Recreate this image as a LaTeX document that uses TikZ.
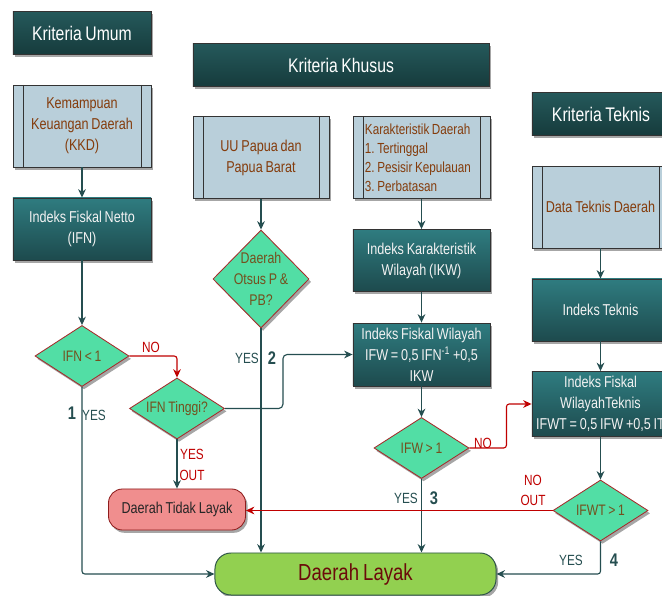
\documentclass[tikz,border=0pt]{standalone}
\usepackage{fontspec}
\setmainfont{Liberation Sans}[FakeStretch=0.8, WordSpace=0.8]
\usepackage{tikz}
\usetikzlibrary{shapes.geometric, arrows.meta, shadows}
\frenchspacing
\hyphenpenalty=10000
\exhyphenpenalty=10000

\definecolor{headtop}{HTML}{25595B}
\definecolor{headbot}{HTML}{163B3C}
\definecolor{proctop}{HTML}{2F7C80}
\definecolor{procbot}{HTML}{1D4A4D}
\definecolor{inputfill}{HTML}{B9CFDA}
\definecolor{inputtext}{HTML}{843C0C}
\definecolor{decfill}{HTML}{52DEA5}
\definecolor{decline}{HTML}{A52A2A}
\definecolor{dectext}{HTML}{74501E}
\definecolor{linecol}{HTML}{254E50}
\definecolor{nored}{HTML}{C00000}
\definecolor{rejectfill}{HTML}{F08E8E}
\definecolor{rejectline}{HTML}{8E1C1C}
\definecolor{acceptfill}{HTML}{92D050}
\definecolor{acceptline}{HTML}{2E5548}
\definecolor{accepttext}{HTML}{6B0A0A}

\tikzset{
  shade box/.style={drop shadow={shadow xshift=1.5pt, shadow yshift=-2pt, opacity=0.35, fill=black}},
  header/.style={shade box, draw=black!80, line width=0.6pt, top color=headtop, bottom color=headbot,
    text=white, font=\fontsize{14}{16}\selectfont, minimum height=1.075cm},
  procbox/.style={shade box, draw=black!80, line width=0.6pt, top color=proctop, bottom color=procbot,
    text=white!95!black, font=\fontsize{11.2}{15}\selectfont, align=flush center, inner xsep=0.1cm,
    text width=3.225cm, minimum height=1.55cm},
  inputbox/.style={shade box, draw=black!80, line width=0.6pt, fill=inputfill, text=inputtext,
    font=\fontsize{11.2}{15}\selectfont, align=flush center, inner xsep=0.3cm, text width=2.825cm,
    minimum height=2.05cm,
    path picture={
      \draw[black!80, line width=0.6pt]
        ([xshift=0.25cm]path picture bounding box.north west) -- ([xshift=0.25cm]path picture bounding box.south west)
        ([xshift=-0.25cm]path picture bounding box.north east) -- ([xshift=-0.25cm]path picture bounding box.south east);}},
  decision/.style={shade box, diamond, aspect=1.6, draw=decline, line width=0.6pt, fill=decfill,
    text=dectext, font=\fontsize{10.8}{14.5}\selectfont, inner sep=0pt, align=center,
    minimum width=2.375cm, minimum height=1.525cm},
  reject/.style={shade box, draw=rejectline, line width=0.6pt, fill=rejectfill, rounded corners=0.35cm,
    text=black!85, font=\fontsize{11.2}{14}\selectfont, minimum width=3.425cm, minimum height=1.025cm},
  accept/.style={shade box, draw=acceptline, line width=0.7pt, fill=acceptfill, rounded corners=0.4cm,
    text=accepttext, font=\fontsize{16.5}{18}\selectfont, minimum width=7.025cm, minimum height=1.05cm},
  flow/.style={draw=linecol, line width=0.8pt, -{Stealth[length=6pt, width=5.5pt]}},
  noflow/.style={draw=nored, line width=0.8pt, -{Stealth[length=6pt, width=5.5pt]}},
  yeslabel/.style={text=linecol, font=\fontsize{10.5}{12}\selectfont, inner sep=1pt},
  nolabel/.style={text=nored, font=\fontsize{10.5}{12}\selectfont, inner sep=1pt},
  pathnum/.style={text=linecol, font=\fontsize{13}{14}\selectfont\bfseries, inner sep=1pt}
}

\begin{document}
\begin{tikzpicture}[x=0.025cm, y=-0.025cm]
        % Canvas
        \path[use as bounding box, fill=white] (0,0) rectangle (662,596);

        % Kriteria Umum
        \node[header, minimum width=3.45cm] (umum) at (82,33) {Kriteria Umum};
        \node[inputbox, text width=2.85cm] (kkd) at (82,126) {Kemampuan\\Keuangan Daerah\\(KKD)};
        \node[procbox, text width=3.25cm] (ifn) at (82,229) {Indeks Fiskal Netto\\(IFN)};
        \node[decision, minimum width=2.35cm] (ifncek) at (82,356) {IFN < 1};
        \node[decision] (tinggi) at (177,408.5) {IFN Tinggi?};

        % Kriteria Khusus
        \node[header, minimum width=7.4cm] (khusus) at (341,65) {Kriteria Khusus};
        \node[inputbox, text width=2.8cm] (uu) at (261,157.5) {UU Papua dan\\Papua Barat};
        \node[decision, aspect=1, inner sep=-5pt, minimum width=2.4cm, minimum height=2.45cm,
          font=\fontsize{11}{14.8}\selectfont] (otsus) at (261,279) {Daerah\\Otsus P \&\\PB?};
        \node[inputbox, align=flush left, inner xsep=0.3cm, text width=2.825cm,
          font=\fontsize{10.4}{13.5}\selectfont] (karak) at (421.5,157.5)
          {Karakteristik Daerah\\1. Tertinggal\\2. Pesisir Kepulauan\\3. Perbatasan};
        \node[procbox] (ikw) at (421.5,260.5) {Indeks Karakteristik\\Wilayah (IKW)};
        \node[procbox] (ifw) at (421.5,354.5) {Indeks Fiskal Wilayah\\IFW = 0,5 IFN\textsuperscript{-1} +0,5\\IKW};
        \node[decision] (ifwcek) at (421.5,448) {IFW > 1};

        % Kriteria Teknis
        \node[header, minimum width=3.45cm] (teknis) at (601,114) {Kriteria Teknis};
        \node[inputbox, inner xsep=0.2cm, text width=3.025cm] (data) at (600.5,207) {Data Teknis Daerah};
        \node[procbox] (indteknis) at (600.5,310) {Indeks Teknis};
        \node[procbox] (ifwt) at (600.5,404) {Indeks Fiskal\\WilayahTeknis\\\mbox{IFWT = 0,5 IFW +0,5 IT}};
        \node[decision] (ifwtcek) at (600.5,510.5) {IFWT > 1};

        % Hasil
        \node[reject] (tidak) at (177,509.5) {Daerah Tidak Layak};
        \node[accept] (layak) at (355.5,574) {Daerah Layak};

        % Connectors
        \draw[flow] (kkd) -- (ifn);
        \draw[flow] (ifn) -- (ifncek);
        \draw[flow, rounded corners=2pt] (ifncek.south) |- (layak.west);
        \draw[noflow, rounded corners=2pt] (ifncek.east) -| (tinggi.north);
        \draw[flow] (tinggi) -- (tidak);
        \draw[flow, rounded corners=3pt] (tinggi.east) -- ++(58,0) |- (ifw.west);
        \draw[flow] (uu) -- (otsus);
        \draw[flow] (otsus.south) -- (otsus.south |- layak.north);
        \draw[flow] (karak) -- (ikw);
        \draw[flow] (ikw) -- (ifw);
        \draw[flow] (ifw) -- (ifwcek);
        \draw[flow] (ifwcek.south) -- (ifwcek.south |- layak.north);
        \draw[noflow, rounded corners=2pt] (ifwcek.east) -- ++(37,0) |- (ifwt.west);
        \draw[flow] (data) -- (indteknis);
        \draw[flow] (indteknis) -- (ifwt);
        \draw[flow] (ifwt) -- (ifwtcek);
        \draw[noflow] (ifwtcek.west) -- (ifwtcek.west -| tidak.east);
        \draw[flow, rounded corners=2pt] (ifwtcek.south) |- (layak.east);

        % Labels
        \node[pathnum] (num1) at (72,413) {1};
        \node[yeslabel] (yes1) at (94,415) {YES};
        \node[nolabel] (no1) at (151,347) {NO};
        \node[nolabel] (yes2) at (192,454) {YES};
        \node[nolabel] (out1) at (192,475) {OUT};
        \node[yeslabel] (yes3) at (247,358) {YES};
        \node[pathnum] (num2) at (272,358) {2};
        \node[yeslabel] (yes4) at (406,498) {YES};
        \node[pathnum] (num3) at (434,498) {3};
        \node[nolabel] (no2) at (483,443) {NO};
        \node[nolabel] (no3) at (533,480) {NO};
        \node[nolabel] (out2) at (533,500) {OUT};
        \node[yeslabel] (yes5) at (571,560) {YES};
        \node[pathnum] (num4) at (614,560) {4};
    \end{tikzpicture}
\end{document}
